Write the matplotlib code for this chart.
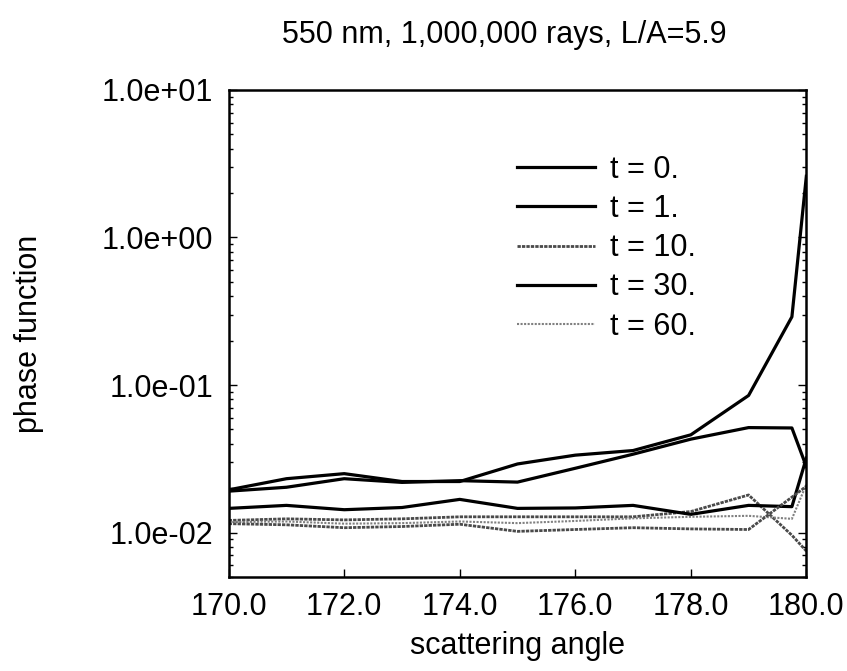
import matplotlib
matplotlib.use("Agg")
import matplotlib.pyplot as plt
from matplotlib.ticker import FuncFormatter, LogLocator

plt.rcParams['font.family'] = ['Liberation Sans', 'DejaVu Sans']

# scattering angles (deg); last bin is split near the backscatter peak
angle = [170, 171, 172, 173, 174, 175, 176, 177, 178, 179, 179.75, 180]

p_t0 = [0.0195, 0.0232, 0.0251, 0.0222, 0.0222, 0.0292, 0.0335, 0.0360,
        0.0460, 0.085, 0.29, 2.6]
p_t1 = [0.0191, 0.0203, 0.0232, 0.0219, 0.0225, 0.0220, 0.0273, 0.0340,
        0.0430, 0.0515, 0.0512, 0.028]
p_t10 = [0.0121, 0.0124, 0.0122, 0.0124, 0.0128, 0.0128, 0.0128, 0.0128,
         0.0139, 0.0180, 0.0096, 0.0075]
p_t30 = [0.0146, 0.0153, 0.0143, 0.0148, 0.0168, 0.0146, 0.0147, 0.0153,
         0.0133, 0.0153, 0.0150, 0.032]
p_t60 = [0.0118, 0.0119, 0.0115, 0.0116, 0.0119, 0.0116, 0.0120, 0.0125,
         0.0128, 0.0130, 0.0124, 0.0212]
p_extra = [0.0115, 0.0113, 0.0108, 0.0110, 0.0114, 0.0102, 0.0105, 0.0108,
           0.0106, 0.0105, 0.0174, 0.0206]

FS = 22

fig = plt.figure(figsize=(8.47, 6.71), dpi=100)
ax = fig.add_axes([0.270, 0.140, 0.682, 0.726])

ax.plot(angle, p_t0, color='black', lw=2.3, label='t = 0.')
ax.plot(angle, p_t1, color='black', lw=2.3, label='t = 1.')
ax.plot(angle, p_t10, color='#4a4a4a', lw=2.0, ls=(0, (1.2, 0.4)), label='t = 10.')
ax.plot(angle, p_t30, color='black', lw=2.3, label='t = 30.')
ax.plot(angle, p_t60, color='#808080', lw=1.5, ls=(0, (1, 0.7)), label='t = 60.')
ax.plot(angle, p_extra, color='#4a4a4a', lw=2.0, ls=(0, (1.2, 0.4)))

ax.set_yscale('log')
ax.set_xlim(170, 180)
ax.set_ylim(0.005, 10)
ax.set_xticks([170, 172, 174, 176, 178, 180])
ax.xaxis.set_major_formatter(FuncFormatter(lambda v, p: '%.1f' % v))
ax.yaxis.set_major_locator(LogLocator(base=10, numticks=10))
ax.yaxis.set_minor_locator(LogLocator(base=10, subs=range(2, 10), numticks=20))
ax.yaxis.set_major_formatter(FuncFormatter(lambda v, p: '%.1e' % v))

ax.tick_params(which='both', direction='in', right=True, top=False,
               labelsize=FS, width=1)
ax.tick_params(which='major', length=6)
ax.tick_params(which='minor', length=3)
ax.tick_params(axis='y', pad=11)
ax.tick_params(axis='x', pad=11)
for s in ax.spines.values():
    s.set_linewidth(1.8)

ax.set_xlabel('scattering angle', fontsize=FS, labelpad=6)
ax.set_ylabel('phase function', fontsize=FS, labelpad=42)
fig.text(0.596, 0.948, '550 nm, 1,000,000 rays, L/A=5.9', fontsize=FS,
         ha='center', va='center')

ax.legend(loc='upper left', bbox_to_anchor=(0.473, 0.898), frameon=False,
          fontsize=FS, borderpad=0, handlelength=2.55, handletextpad=0.5,
          labelspacing=0.3)

fig.savefig('out.png', dpi=100)
